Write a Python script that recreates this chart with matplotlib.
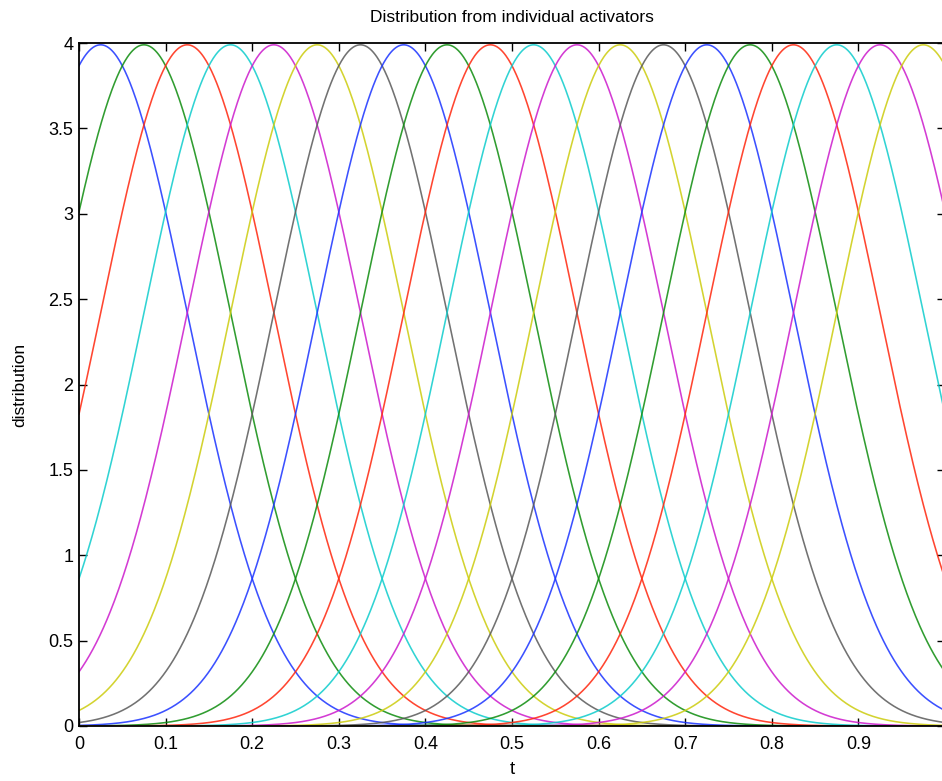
import numpy as np
import matplotlib
matplotlib.use("Agg")
import matplotlib.pyplot as plt

# Activator centres and common spread (peaks of 4 -> sigma 0.1)
centers = [0.025, 0.075, 0.125, 0.175, 0.225, 0.275, 0.325, 0.375, 0.425, 0.475,
           0.525, 0.575, 0.625, 0.675, 0.725, 0.775, 0.825, 0.875, 0.925, 0.975]
sigma = 0.1
color_cycle = [(0.1, 0.2, 1.0), (0.05, 0.55, 0.05), (1.0, 0.15, 0.05), (0.05, 0.8, 0.8),
               (0.8, 0.1, 0.8), (0.8, 0.8, 0.05), (0.35, 0.35, 0.35)]
xticks = [0, 0.1, 0.2, 0.3, 0.4, 0.5, 0.6, 0.7, 0.8, 0.9, 1.0]
xticklabels = ["0", "0.1", "0.2", "0.3", "0.4", "0.5", "0.6", "0.7", "0.8", "0.9", ""]
yticks = [0, 0.5, 1, 1.5, 2, 2.5, 3, 3.5, 4]
yticklabels = ["0", "0.5", "1", "1.5", "2", "2.5", "3", "3.5", "4"]

plt.rcParams['font.family'] = ['Liberation Sans', 'DejaVu Sans']

fig = plt.figure(figsize=(9.42, 7.81), dpi=100)
ax = fig.add_axes([79/942, 55/781, 866/942, 683/781])

t = np.linspace(0, 1, 1001)
for i, c in enumerate(centers):
    y = np.exp(-(t - c) ** 2 / (2 * sigma ** 2)) / (sigma * np.sqrt(2 * np.pi))
    ax.plot(t, y, color=color_cycle[i % len(color_cycle)], lw=1.15, alpha=0.85)

ax.set_xlim(0, 1)
ax.set_ylim(0, 4)
ax.set_xticks(xticks)
ax.set_xticklabels(xticklabels)
ax.set_yticks(yticks)
ax.set_yticklabels(yticklabels)
ax.tick_params(direction='in', top=True, right=True, length=6, width=1.0,
               labelsize=13, pad=4)
ax.tick_params(axis='x', pad=7)
for s in ax.spines.values():
    s.set_linewidth(1.3)
ax.set_title("Distribution from individual activators", fontsize=12.5, pad=15)
ax.set_xlabel("t", fontsize=13.5, labelpad=6)
ax.set_ylabel("distribution", fontsize=12.5, labelpad=15)

fig.savefig("out.png", dpi=100)
